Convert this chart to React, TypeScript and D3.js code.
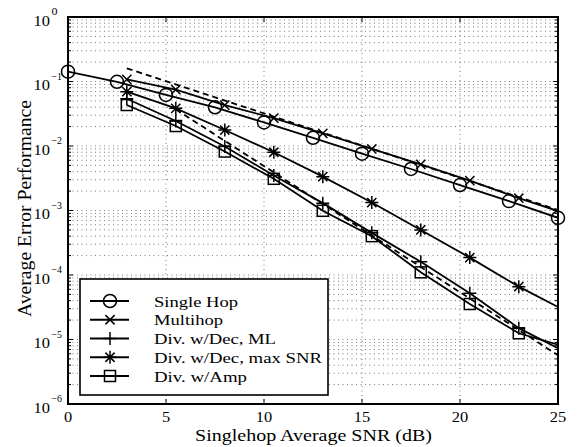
import React from 'react';
import * as d3 from 'd3';

// ---- data ----
const singleHopX = [0, 2.5, 5, 7.5, 10, 12.5, 15, 17.5, 20, 22.5, 25];
const singleHopY = [0.142, 0.099, 0.062, 0.0398, 0.0232, 0.0134, 0.0076, 0.0044, 0.00248, 0.0014, 0.00077];

const relayX = [3, 5.5, 8, 10.5, 13, 15.5, 18, 20.5, 23, 25];
const multihopY = [0.108, 0.075, 0.043, 0.027, 0.0157, 0.009, 0.0052, 0.0029, 0.00155, 0.00098];
const divDecMLY = [0.054, 0.0244, 0.0098, 0.0035, 0.0013, 0.00045, 0.00016, 5.2e-5, 1.5e-5, 7.3e-6];
const divDecMaxY = [0.0695, 0.0384, 0.0177, 0.008, 0.00335, 0.00133, 0.0005, 0.000186, 6.6e-5, 3.2e-5];
const divAmpY = [0.0432, 0.0204, 0.0082, 0.0031, 0.00099, 0.0004, 0.00011, 3.55e-5, 1.25e-5, 8.3e-6];

const upperDashX = [3, 25];
const upperDashY = [0.16, 0.00102];
const lowerDashX = [5.5, 25];
const lowerDashY = [0.037, 5.7e-6];

const legendLabels = ['Single Hop', 'Multihop', 'Div. w/Dec, ML', 'Div. w/Dec, max SNR', 'Div. w/Amp'];
const legendWidths = [84, 69, 122, 168, 93];
const xTicks = [0, 5, 10, 15, 20, 25];
const yExponents = [0, -1, -2, -3, -4, -5, -6];

type MarkerKind = 'circle' | 'x' | 'plus' | 'star' | 'square';

const series: { xs: number[]; ys: number[]; marker: MarkerKind; markLast: boolean }[] = [
  { xs: singleHopX, ys: singleHopY, marker: 'circle', markLast: true },
  { xs: relayX, ys: multihopY, marker: 'x', markLast: false },
  { xs: relayX, ys: divDecMLY, marker: 'plus', markLast: false },
  { xs: relayX, ys: divDecMaxY, marker: 'star', markLast: false },
  { xs: relayX, ys: divAmpY, marker: 'square', markLast: false },
];

const W = 579;
const H = 447;
const L = 68;
const R = 558;
const T = 17;
const B = 404;
const FONT = "'Liberation Serif', 'Times New Roman', Times, serif";
const DIGIT_W = 8.2;

const x = d3.scaleLinear().domain([0, 25]).range([L, R]);
const y = d3.scaleLog().domain([1e-6, 1]).range([B, T]);

function Marker({ kind, cx, cy }: { kind: MarkerKind; cx: number; cy: number }) {
  const sw = 1.5;
  const common = { stroke: '#000', strokeWidth: sw, fill: 'none' };
  if (kind === 'circle') return <circle cx={cx} cy={cy} r={6.5} {...common} />;
  if (kind === 'square') return <rect x={cx - 5.5} y={cy - 5.5} width={11} height={11} {...common} />;
  const a = 6.5;
  const d = 4.6;
  const plus = `M${cx - a},${cy}H${cx + a}M${cx},${cy - a}V${cy + a}`;
  const cross = `M${cx - d},${cy - d}L${cx + d},${cy + d}M${cx - d},${cy + d}L${cx + d},${cy - d}`;
  if (kind === 'plus') return <path d={plus} {...common} />;
  if (kind === 'x') return <path d={cross} {...common} />;
  return <path d={plus + cross} {...common} />;
}

export default function App() {
  const line = d3
    .line<[number, number]>()
    .x((d) => x(d[0]))
    .y((d) => y(d[1]));

  const gridY: number[] = [];
  for (let e = -6; e < 0; e++) {
    for (let m = 1; m <= 9; m++) {
      const v = m * Math.pow(10, e);
      if (v > 1e-6 && v < 1) gridY.push(v);
    }
  }
  const minorY = gridY.filter((v) => Math.abs(Math.log10(v) - Math.round(Math.log10(v))) > 1e-6);

  const legX0 = 80;
  const legY0 = 279;
  const legW = 248;
  const legH = 116;
  const rowY0 = 301;
  const rowDy = 18.75;

  return (
    <svg
      width={W}
      height={H}
      style={{ position: 'absolute', left: 0, top: 0, background: '#fff', fontFamily: FONT }}
    >
      <rect x={0} y={0} width={W} height={H} fill="#fff" />
      <defs>
        <clipPath id="plotClip">
          <rect x={L} y={T} width={R - L} height={B - T} />
        </clipPath>
      </defs>

      {/* grid */}
      <g stroke="#555" strokeWidth={0.8} strokeDasharray="1 3.5">
        {gridY.map((v, i) => (
          <line key={'gy' + i} x1={L} x2={R} y1={y(v)} y2={y(v)} />
        ))}
        {xTicks.slice(1, -1).map((t) => (
          <line key={'gx' + t} x1={x(t)} x2={x(t)} y1={T} y2={B} />
        ))}
      </g>

      {/* ticks */}
      <g stroke="#000" strokeWidth={1}>
        {xTicks.map((t) => (
          <g key={'xt' + t}>
            <line x1={x(t)} x2={x(t)} y1={B} y2={B - 5} />
            <line x1={x(t)} x2={x(t)} y1={T} y2={T + 5} />
          </g>
        ))}
        {yExponents.map((e) => (
          <g key={'yt' + e}>
            <line x1={L} x2={L + 5} y1={y(Math.pow(10, e))} y2={y(Math.pow(10, e))} />
            <line x1={R} x2={R - 5} y1={y(Math.pow(10, e))} y2={y(Math.pow(10, e))} />
          </g>
        ))}
        {minorY.map((v, i) => (
          <g key={'ym' + i}>
            <line x1={L} x2={L + 3} y1={y(v)} y2={y(v)} />
            <line x1={R} x2={R - 3} y1={y(v)} y2={y(v)} />
          </g>
        ))}
      </g>

      {/* data */}
      <g clipPath="url(#plotClip)" fill="none" stroke="#000">
        <path
          d={line(upperDashX.map((v, i) => [v, upperDashY[i]]) as [number, number][]) || ''}
          strokeWidth={1.8}
          strokeDasharray="6 4"
        />
        <path
          d={line(lowerDashX.map((v, i) => [v, lowerDashY[i]]) as [number, number][]) || ''}
          strokeWidth={1.8}
          strokeDasharray="6 4"
        />
        {series.map((s, si) => (
          <path
            key={'s' + si}
            d={line(s.xs.map((v, i) => [v, s.ys[i]]) as [number, number][]) || ''}
            strokeWidth={1.8}
          />
        ))}
      </g>
      {series.map((s, si) =>
        s.xs.map((v, i) =>
          !s.markLast && i === s.xs.length - 1 ? null : (
            <Marker key={'m' + si + '-' + i} kind={s.marker} cx={x(v)} cy={y(s.ys[i])} />
          )
        )
      )}

      {/* axes box */}
      <rect x={L} y={T} width={R - L} height={B - T} fill="none" stroke="#000" strokeWidth={2} />

      {/* x tick labels */}
      {xTicks.map((t) => {
        const s = String(t);
        const w = s.length * DIGIT_W;
        return (
          <text
            key={'xl' + t}
            x={x(t) - w / 2}
            y={422}
            fontSize={15}
            fill="#000"
            textLength={w}
            lengthAdjust="spacingAndGlyphs"
          >
            {s}
          </text>
        );
      })}

      {/* y tick labels */}
      {yExponents.map((e) => {
        const yy = y(Math.pow(10, e));
        const ex = e === 0 ? '0' : '\u2212' + Math.abs(e);
        return (
          <g key={'yl' + e}>
            <text
              x={50 - 2 * DIGIT_W}
              y={yy + 8.5}
              fontSize={15}
              fill="#000"
              textLength={2 * DIGIT_W}
              lengthAdjust="spacingAndGlyphs"
            >
              10
            </text>
            <text
              x={51.5}
              y={yy - 2}
              fontSize={10.5}
              fill="#000"
              textLength={e === 0 ? 6 : 10.5}
              lengthAdjust="spacingAndGlyphs"
            >
              {ex}
            </text>
          </g>
        );
      })}

      {/* axis labels */}
      <text
        x={195}
        y={441}
        fontSize={16.5}
        fill="#000"
        textLength={237}
        lengthAdjust="spacingAndGlyphs"
      >
        Singlehop Average SNR (dB)
      </text>
      <text
        transform={`translate(30.5,317) rotate(-90)`}
        x={0}
        y={0}
        fontSize={19}
        fill="#000"
        textLength={217}
        lengthAdjust="spacingAndGlyphs"
      >
        Average Error Performance
      </text>

      {/* legend */}
      <rect x={legX0} y={legY0} width={legW} height={legH} fill="#fff" stroke="#000" strokeWidth={1.6} />
      {legendLabels.map((lab, i) => {
        const ry = rowY0 + i * rowDy;
        return (
          <g key={'lg' + i}>
            <line x1={90} x2={129} y1={ry} y2={ry} stroke="#000" strokeWidth={1.8} />
            <Marker kind={series[i].marker} cx={110} cy={ry} />
            <text
              x={154}
              y={ry + 5.5}
              fontSize={15.5}
              fill="#000"
              textLength={legendWidths[i]}
              lengthAdjust="spacingAndGlyphs"
            >
              {lab}
            </text>
          </g>
        );
      })}
    </svg>
  );
}
